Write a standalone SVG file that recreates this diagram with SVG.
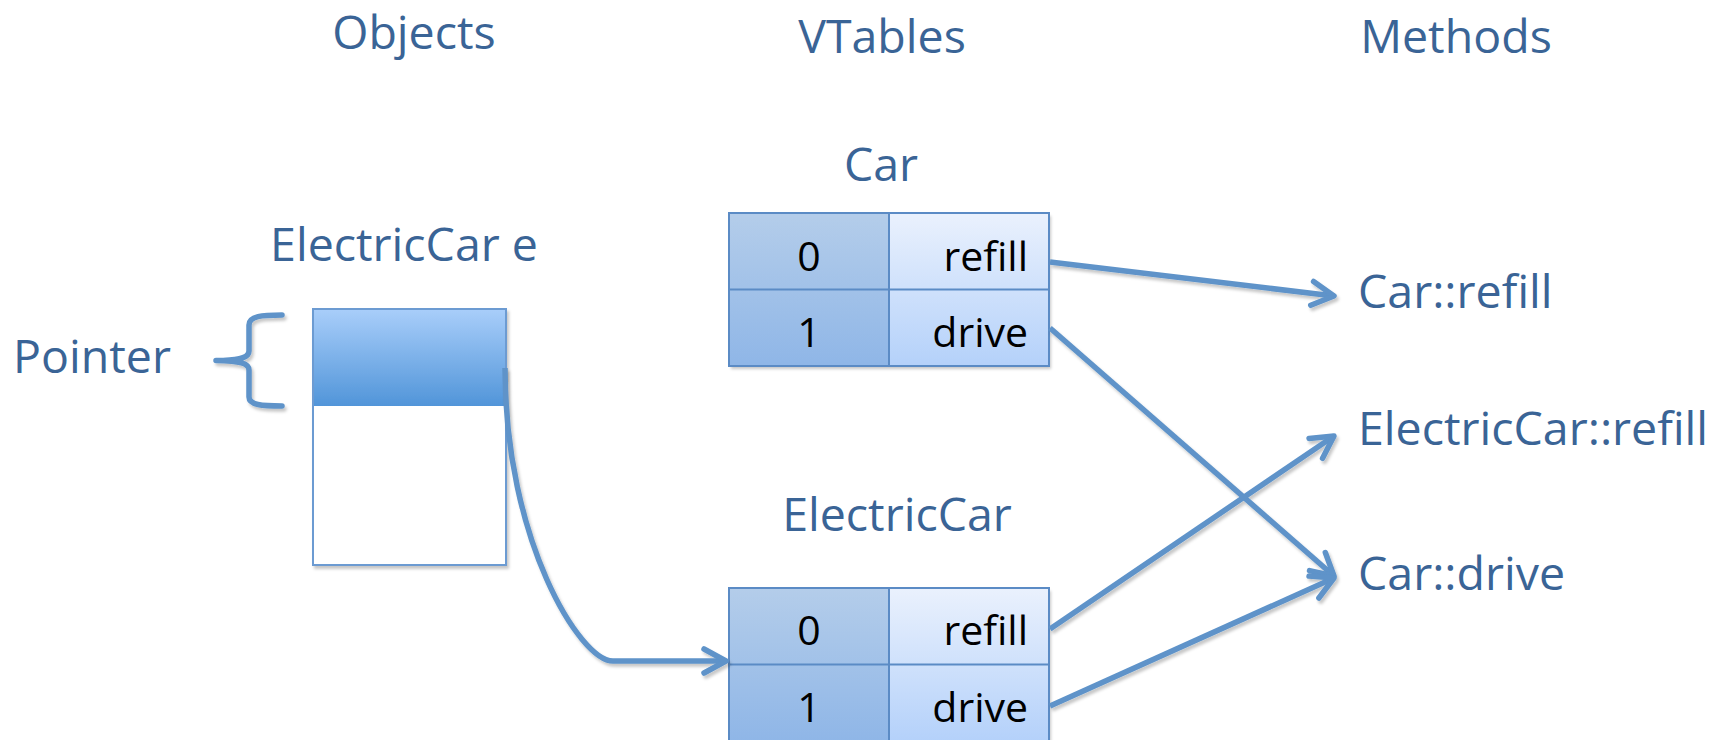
<svg xmlns="http://www.w3.org/2000/svg" width="1722" height="740" viewBox="0 0 1722 740">
<style>
.lbl{font-family:"Open Sans","Noto Sans","Liberation Sans",sans-serif;font-size:46.5px;fill:#3A6496}
.cell{font-family:"Open Sans","Noto Sans","Liberation Sans",sans-serif;font-size:41px;fill:#000}
.mid{text-anchor:middle}
.end{text-anchor:end}
.grid{fill:none;stroke:#5B8BC5;stroke-width:2}
.conn{fill:none;stroke:#5E93C9;stroke-width:5.5;stroke-linejoin:round}
</style>
<defs>
<linearGradient id="gl" x1="0" y1="0" x2="0" y2="1">
<stop offset="0" stop-color="#B4CDEA"/>
<stop offset="1" stop-color="#8FB6E7"/>
</linearGradient>
<linearGradient id="gr" x1="0" y1="0" x2="0" y2="1">
<stop offset="0" stop-color="#EAF1FD"/>
<stop offset="1" stop-color="#B4D1FA"/>
</linearGradient>
<linearGradient id="gp" x1="0" y1="0" x2="0" y2="1">
<stop offset="0" stop-color="#A9CEFA"/>
<stop offset="1" stop-color="#5195D9"/>
</linearGradient>
<filter id="sh" x="-10%" y="-10%" width="130%" height="130%">
<feDropShadow dx="2" dy="3" stdDeviation="1.5" flood-color="#000" flood-opacity="0.22"/>
</filter>
<marker id="arr" viewBox="-28 -16 32 32" refX="0" refY="0" markerWidth="32" markerHeight="32" orient="auto" markerUnits="userSpaceOnUse">
<path d="M-22,-12 L0,0 L-22,12" fill="none" stroke="#5E93C9" stroke-width="5.5" stroke-linecap="round" stroke-linejoin="round"/>
</marker>
</defs>
<rect width="1722" height="740" fill="#fff"/>

<g id="headers">
<text class="lbl mid" x="414" y="49">Objects</text>
<text class="lbl mid" x="882" y="53">VTables</text>
<text class="lbl mid" x="1456" y="53">Methods</text>
</g>

<g id="object-e">
<text class="lbl mid" x="404" y="261">ElectricCar e</text>
<g filter="url(#sh)">
<rect x="313" y="309" width="193" height="97" fill="url(#gp)"/>
<rect x="313" y="406" width="193" height="159" fill="#fff"/>
<rect x="313" y="309" width="193" height="256" fill="none" stroke="#6C9BD2" stroke-width="2"/>
</g>
</g>

<g id="pointer">
<text class="lbl" x="13" y="373">Pointer</text>
<path class="conn" filter="url(#sh)" d="M282,315 C262,315 249,316 249,325 L249,351 C249,358 240,360.5 216,360.5 C240,361 249,363 249,370 L249,397 C249,405 262,406 282,406" stroke-linecap="round"/>
</g>

<g id="vtable-car">
<text class="lbl mid" x="881" y="181">Car</text>
<g filter="url(#sh)">
<rect x="729" y="213" width="160" height="153" fill="url(#gl)"/>
<rect x="889" y="213" width="160" height="153" fill="url(#gr)"/>
</g>
<rect class="grid" x="729" y="213" width="320" height="153"/>
<line class="grid" x1="729" y1="289.5" x2="1049" y2="289.5"/>
<line class="grid" x1="889" y1="213" x2="889" y2="366"/>
<text class="cell mid" x="809" y="271">0</text>
<text class="cell end" x="1028" y="271">refill</text>
<text class="cell mid" x="809" y="347">1</text>
<text class="cell end" x="1028" y="347">drive</text>
</g>

<g id="vtable-electriccar">
<text class="lbl mid" x="897" y="531">ElectricCar</text>
<g filter="url(#sh)">
<rect x="729" y="588" width="160" height="153" fill="url(#gl)"/>
<rect x="889" y="588" width="160" height="153" fill="url(#gr)"/>
</g>
<rect class="grid" x="729" y="588" width="320" height="153"/>
<line class="grid" x1="729" y1="664.5" x2="1049" y2="664.5"/>
<line class="grid" x1="889" y1="588" x2="889" y2="741"/>
<text class="cell mid" x="809" y="645">0</text>
<text class="cell end" x="1028" y="645">refill</text>
<text class="cell mid" x="809" y="722">1</text>
<text class="cell end" x="1028" y="722">drive</text>
</g>

<g id="method-car-refill"><text class="lbl" x="1358" y="308">Car::refill</text></g>
<g id="method-electriccar-refill"><text class="lbl" x="1358" y="445">ElectricCar::refill</text></g>
<g id="method-car-drive"><text class="lbl" x="1358" y="590">Car::drive</text></g>

<g id="connectors" filter="url(#sh)">
<path class="conn" d="M505,368 C505,540 580,661 613,661 L726,661" marker-end="url(#arr)"/>
<path class="conn" d="M1050,262 L1334,296" marker-end="url(#arr)"/>
<path class="conn" d="M1050,328 L1334,576" marker-end="url(#arr)"/>
<path class="conn" d="M1050,629 L1334,436" marker-end="url(#arr)"/>
<path class="conn" d="M1050,706 L1334,578" marker-end="url(#arr)"/>
</g>
</svg>
